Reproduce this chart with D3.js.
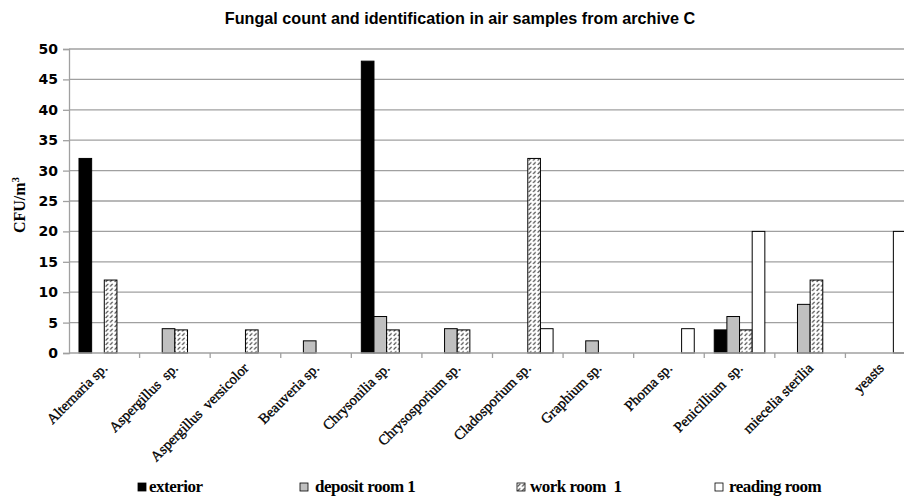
<!DOCTYPE html>
<html>
<head>
<meta charset="utf-8">
<script src="https://cdn.jsdelivr.net/npm/d3@7"></script>
<style>
  body { margin: 0; background: #fff; }
  svg { display: block; }
</style>
</head>
<body>
<svg id="chart" width="904" height="499"></svg>
<script>
// data
var categories = ["Alternaria sp.", "Aspergillus  sp.", "Aspergillus  versicolor", "Beauveria sp.",
  "Chrysonilia sp.", "Chrysosporium sp.", "Cladosporium sp.", "Graphium sp.", "Phoma sp.",
  "Penicillium  sp.", "miecelia sterilia", "yeasts"];
var seriesNames = ["exterior", "deposit room 1", "work room  1", "reading room"];
var exterior    = [32, 0, 0, 0, 48, 0, 0, 0, 0, 3.8, 0, 0];
var depositRoom = [0, 4, 0, 2, 6, 4, 0, 2, 0, 6, 8, 0];
var workRoom    = [12, 3.8, 3.8, 0, 3.8, 3.8, 32, 0, 0, 3.8, 12, 0];
var readingRoom = [0, 0, 0, 0, 0, 0, 4, 0, 4, 20, 0, 20];
var yTicks = [0, 5, 10, 15, 20, 25, 30, 35, 40, 45, 50];

var seriesValues = [exterior, depositRoom, workRoom, readingRoom];
var fills = ["#000", "#c0c0c0", "url(#hatch)", "#fff"];

var svg = d3.select("#chart");

// hatch pattern for work room
var defs = svg.append("defs");
var pat = defs.append("pattern")
  .attr("id", "hatch")
  .attr("patternUnits", "userSpaceOnUse")
  .attr("width", 4.5)
  .attr("height", 4.5);
pat.append("rect").attr("width", 4.5).attr("height", 4.5).attr("fill", "#fff");
pat.append("line")
  .attr("x1", 0.6).attr("y1", 3.4).attr("x2", 3.2).attr("y2", 0.8)
  .attr("stroke", "#222").attr("stroke-width", 1);

var margin = { left: 69, top: 49, right: -12, bottom: 146 };
var width = 904 - margin.left - margin.right;
var height = 499 - margin.top - margin.bottom;

var x0 = d3.scaleBand()
  .domain(categories)
  .range([0, width]);

var x1 = d3.scaleBand()
  .domain(d3.range(seriesNames.length))
  .range([0, x0.bandwidth()])
  .paddingOuter(0.79);

var y = d3.scaleLinear()
  .domain([0, 50])
  .range([height, 0]);

svg.append("text")
  .attr("x", 460)
  .attr("y", 24)
  .attr("text-anchor", "middle")
  .style("font-family", "Arial, 'Liberation Sans', sans-serif")
  .style("font-weight", "bold")
  .style("font-size", "16.2px")
  .text("Fungal count and identification in air samples from archive C");

var g = svg.append("g")
  .attr("transform", `translate(${margin.left},${margin.top})`);

// gridlines
g.append("g")
  .selectAll("line")
  .data(yTicks.slice(1))
  .join("line")
  .attr("x1", 0)
  .attr("x2", width)
  .attr("y1", d => y(d))
  .attr("y2", d => y(d))
  .attr("stroke", "#a0a0a0")
  .attr("stroke-width", 1.3);

// y axis
var yAxis = g.append("g")
  .call(d3.axisLeft(y).tickValues(yTicks).tickSize(6).tickPadding(5));
yAxis.select(".domain").attr("stroke", "#a0a0a0").attr("stroke-width", 1.3);
yAxis.selectAll(".tick line").attr("stroke", "#a0a0a0").attr("stroke-width", 1.3);
yAxis.selectAll(".tick text")
  .attr("fill", "#000")
  .style("font-family", "'DejaVu Sans', Verdana, sans-serif")
  .style("font-weight", "bold")
  .style("font-size", "14px");

// bars
var groups = g.append("g")
  .selectAll("g")
  .data(seriesValues)
  .join("g")
  .attr("fill", (d, i) => fills[i]);

groups.selectAll("rect")
  .data((vals, si) => vals.map((v, ci) => ({ v: v, ci: ci, si: si })).filter(d => d.v > 0))
  .join("rect")
  .attr("x", d => x0(categories[d.ci]) + x1(d.si))
  .attr("width", x1.bandwidth())
  .attr("y", d => y(d.v))
  .attr("height", d => height - y(d.v))
  .attr("stroke", "#000")
  .attr("stroke-width", 1);

// x axis
var xAxisG = g.append("g")
  .attr("transform", `translate(0,${height})`);
xAxisG.append("line")
  .attr("x1", 0).attr("x2", width)
  .attr("stroke", "#a0a0a0").attr("stroke-width", 1.3);
xAxisG.selectAll(".sep")
  .data(categories)
  .join("line")
  .attr("class", "sep")
  .attr("x1", d => x0(d) + x0.bandwidth())
  .attr("x2", d => x0(d) + x0.bandwidth())
  .attr("y1", 0).attr("y2", 5)
  .attr("stroke", "#a0a0a0").attr("stroke-width", 1.3);
xAxisG.selectAll(".lab")
  .data(categories)
  .join("text")
  .attr("class", "lab")
  .attr("text-anchor", "end")
  .attr("transform", d => `translate(${x0(d) + x0.bandwidth() / 2 + 4},${16}) rotate(-45)`)
  .attr("stroke", "#000")
  .attr("stroke-width", 0.35)
  .style("font-family", "'Liberation Serif', 'Times New Roman', serif")
  .style("font-size", "14.5px")
  .style("white-space", "pre")
  .text(d => d);

// y axis title
svg.append("text")
  .attr("transform", "translate(25,205) rotate(-90)")
  .attr("text-anchor", "middle")
  .style("font-family", "'Liberation Serif', 'Times New Roman', serif")
  .style("font-weight", "bold")
  .style("font-size", "16px")
  .text("CFU/m")
  .append("tspan")
  .attr("dy", -6)
  .style("font-size", "11px")
  .text("3");

// legend
var legendX = [138, 300, 517, 715];
var legendTextX = [11, 15, 13, 14];
var legend = svg.append("g")
  .selectAll("g")
  .data(seriesNames)
  .join("g")
  .attr("transform", (d, i) => `translate(${legendX[i]},492)`);
legend.append("rect")
  .attr("x", 0).attr("y", -9)
  .attr("width", 8).attr("height", 8)
  .attr("fill", (d, i) => fills[i])
  .attr("stroke", "#000")
  .attr("stroke-width", 0.8);
legend.append("text")
  .attr("x", (d, i) => legendTextX[i])
  .style("font-family", "'Liberation Serif', 'Times New Roman', serif")
  .style("font-weight", "bold")
  .style("font-size", "17px")
  .style("letter-spacing", "-0.5px")
  .style("white-space", "pre")
  .text(d => d);
</script>
</body>
</html>
